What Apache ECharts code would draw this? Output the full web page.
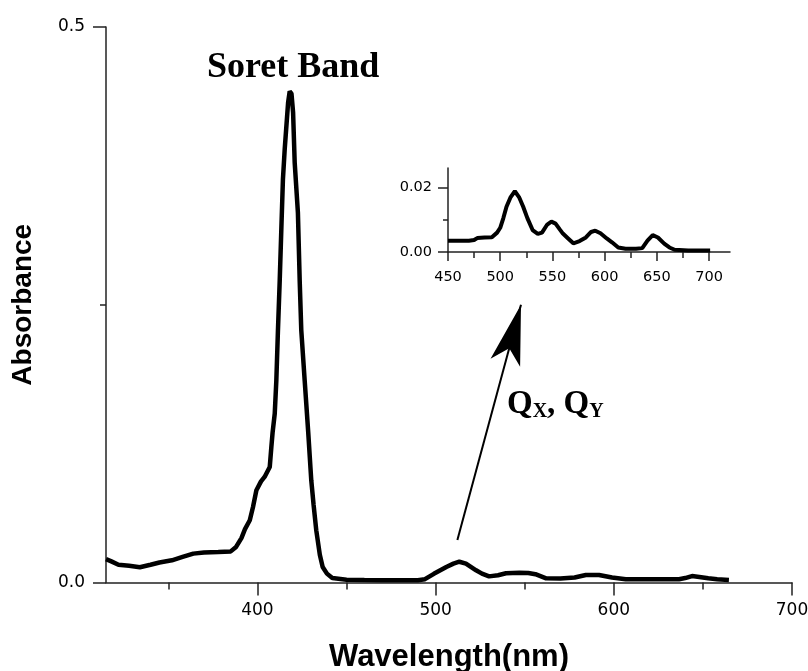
<!DOCTYPE html>
<html>
<head>
<meta charset="utf-8">
<script src="https://cdn.jsdelivr.net/npm/echarts/dist/echarts.min.js"></script>
<style>
  html, body { margin: 0; padding: 0; background: #fff; }
  #chart { width: 808px; height: 671px; }
</style>
</head>
<body>
<div id="chart"></div>
<script>
// full spectrum (wavelength nm, absorbance)
const mainWl = [315, 318, 322, 328, 334, 340, 345, 352, 358, 364, 370, 378, 385, 388, 391, 393, 395.7, 397.5, 399.4, 402, 404, 406.9, 407.8, 408.5, 409.7, 410.6, 411.5, 412.5, 413.4, 414.3, 415.3, 416.2, 417.2, 418.1, 419.1, 420, 420.9, 422.7, 423.7, 424.6, 426.5, 428.5, 430.2, 431.5, 433, 435, 436.6, 439, 442, 450, 460, 470, 480, 490, 494, 499, 506, 510, 513.3, 517, 522.7, 526, 530, 535, 539.5, 547, 552, 556, 562, 570, 578, 584.3, 591.7, 599, 606.7, 615, 625, 636.6, 640, 643.9, 648, 653, 658, 664.6];
const mainAbs = [0.021, 0.019, 0.016, 0.015, 0.0137, 0.016, 0.018, 0.020, 0.023, 0.026, 0.027, 0.0275, 0.028, 0.032, 0.040, 0.048, 0.056, 0.068, 0.083, 0.091, 0.095, 0.104, 0.122, 0.135, 0.152, 0.182, 0.227, 0.272, 0.318, 0.363, 0.39, 0.41, 0.432, 0.442, 0.44, 0.423, 0.378, 0.333, 0.272, 0.227, 0.182, 0.135, 0.092, 0.07, 0.047, 0.025, 0.014, 0.008, 0.004, 0.0025, 0.0022, 0.002, 0.002, 0.002, 0.003, 0.0078, 0.014, 0.017, 0.0187, 0.017, 0.011, 0.008, 0.0055, 0.0065, 0.0083, 0.0088, 0.0086, 0.0075, 0.0038, 0.0036, 0.0045, 0.0068, 0.0068, 0.0045, 0.003, 0.003, 0.003, 0.003, 0.004, 0.0058, 0.005, 0.0038, 0.003, 0.0023];

// inset: Q band region
const insetWl = [450, 460, 470, 475, 478, 485, 492, 497, 500, 503, 506, 510, 514, 518, 522, 526, 531, 536, 540, 545, 549, 553, 557, 560, 565, 570, 576, 582, 587, 591, 596, 602, 607, 613, 620, 630, 636, 641, 646, 651, 657, 662, 667, 680, 690, 701];
const insetAbs = [0.0035, 0.0035, 0.0035, 0.0037, 0.0043, 0.0045, 0.0046, 0.006, 0.0075, 0.0105, 0.014, 0.017, 0.0188, 0.017, 0.014, 0.0105, 0.0068, 0.0056, 0.006, 0.0085, 0.0094, 0.0088, 0.007, 0.0057, 0.0042, 0.0027, 0.0034, 0.0045, 0.0062, 0.0066, 0.0058, 0.0042, 0.003, 0.0014, 0.001, 0.001, 0.0012, 0.0035, 0.0052, 0.0045, 0.0026, 0.0014, 0.0007, 0.0005, 0.0005, 0.0005];

// tick labels
const mainXLabels = [400, 500, 600, 700];
const mainXMinor = [350, 450, 550, 650];
const mainYLabels = [0, 0.5];
const mainYMinor = [0.25];
const insetXLabels = [450, 500, 550, 600, 650, 700];
const insetXMinor = [475, 525, 575, 625, 675];
const insetYLabels = [0, 0.02];
const insetYMinor = [0.01];

// arrow from the Q bands up to the inset (tip at arrowTo)
const arrowFrom = [512.2, 0.0383];
const arrowTo = [547.9, 0.25];

const mainData = mainWl.map((w, i) => [w, mainAbs[i]]);
const insetData = insetWl.map((w, i) => [w, insetAbs[i]]);

const axisColor = '#222';
const tickFont = 'DejaVu Sans';

function axisPair(gridIndex, min, max, labels, minor, majorLen, minorLen, labelCfg, extra) {
    // major axis carries the line, labels and long ticks; minor axis only short ticks
    const major = Object.assign({
        gridIndex: gridIndex,
        type: 'value',
        min: min,
        max: max,
        axisLine: { show: true, onZero: false, lineStyle: { color: axisColor, width: 1.5 } },
        axisTick: { show: true, customValues: labels, length: majorLen, lineStyle: { color: axisColor, width: 1.5 } },
        axisLabel: Object.assign({ customValues: labels, color: '#000', fontFamily: tickFont }, labelCfg),
        splitLine: { show: false }
    }, extra);
    const minorAxis = {
        gridIndex: gridIndex,
        type: 'value',
        min: min,
        max: max,
        position: extra.position,
        axisLine: { show: false, onZero: false },
        axisTick: { show: true, customValues: minor, length: minorLen, lineStyle: { color: axisColor, width: 1.5 } },
        axisLabel: { show: false },
        splitLine: { show: false }
    };
    return [major, minorAxis];
}

const xAxes = [].concat(
    axisPair(0, 315, 700, mainXLabels, mainXMinor, 13, 7,
        { fontSize: 17, margin: 20 },
        {
            position: 'bottom',
            name: 'Wavelength(nm)',
            nameLocation: 'middle',
            nameGap: 59,
            nameTextStyle: { fontFamily: 'Liberation Sans', fontWeight: 'bold', fontSize: 31, color: '#000' }
        }),
    axisPair(1, 450, 720, insetXLabels, insetXMinor, 9, 6,
        { fontSize: 14.5, margin: 18 },
        { position: 'bottom' })
);

const yAxes = [].concat(
    axisPair(0, 0, 0.5, mainYLabels, mainYMinor, 13, 6,
        { fontSize: 17, margin: 21, formatter: v => v.toFixed(1) },
        {
            position: 'left',
            name: 'Absorbance',
            nameLocation: 'middle',
            nameRotate: 90,
            nameGap: 69,
            nameTextStyle: { fontFamily: 'Liberation Sans', fontWeight: 'bold', fontSize: 28, color: '#000' }
        }),
    axisPair(1, 0, 0.026, insetYLabels, insetYMinor, 10, 5,
        { fontSize: 14.5, margin: 16, formatter: v => v.toFixed(2) },
        { position: 'left' })
);

const myChart = echarts.init(document.getElementById('chart'), null, { renderer: 'canvas' });
const option = {
    animation: false,
    backgroundColor: '#fff',
    grid: [
        { left: 106, right: 16, top: 27, bottom: 88.5, outerBoundsMode: 'none' },
        { left: 448, right: 78, top: 168, bottom: 419, outerBoundsMode: 'none' }
    ],
    xAxis: xAxes,
    yAxis: yAxes,
    series: [
        {
            type: 'line',
            xAxisIndex: 0,
            yAxisIndex: 0,
            data: mainData,
            showSymbol: false,
            lineStyle: { color: '#000', width: 4.5 },
            markLine: {
                silent: true,
                symbol: ['none', 'arrow'],
                symbolSize: [23, 60],
                label: { show: false },
                lineStyle: { color: '#000', width: 2, type: 'solid' },
                data: [[{ coord: arrowFrom }, { coord: arrowTo }]]
            }
        },
        {
            type: 'line',
            xAxisIndex: 2,
            yAxisIndex: 2,
            data: insetData,
            showSymbol: false,
            lineStyle: { color: '#000', width: 4 }
        }
    ],
    graphic: [
        {
            type: 'text',
            left: 207,
            top: 50,
            style: {
                text: 'Soret Band',
                font: 'bold 36px "Liberation Serif"',
                fill: '#000'
            }
        },
        {
            type: 'text',
            left: 507,
            top: 388,
            style: {
                text: '{q|Q}{s|X}{q|, Q}{s|Y}',
                fill: '#000',
                rich: {
                    q: { fontFamily: 'Liberation Serif', fontWeight: 'bold', fontSize: 33, color: '#000' },
                    s: { fontFamily: 'Liberation Serif', fontWeight: 'bold', fontSize: 20, color: '#000', padding: [15, 0, 0, 0] }
                }
            }
        }
    ]
};
myChart.setOption(option);
</script>
</body>
</html>
